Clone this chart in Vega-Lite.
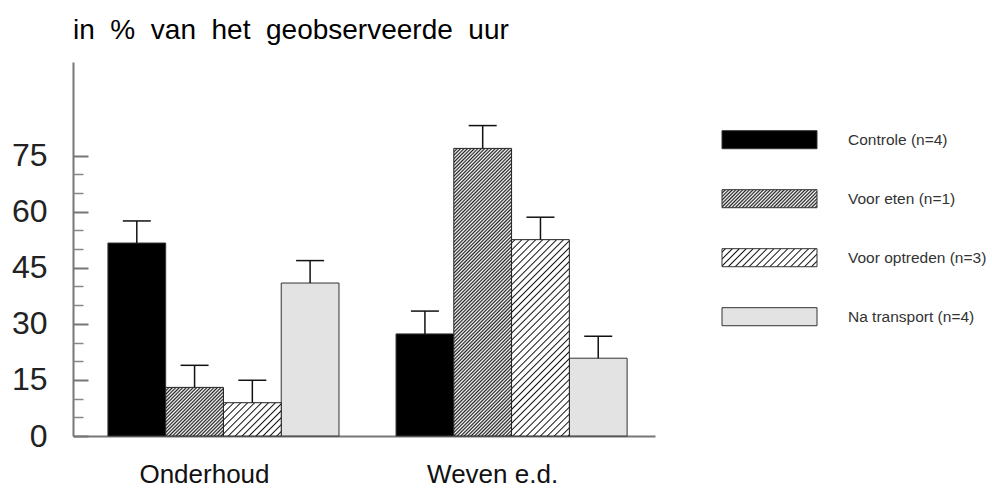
{
  "$schema": "https://vega.github.io/schema/vega-lite/v6.json",
  "width": 582,
  "height": 374,
  "autosize": {"type": "none"},
  "padding": {"left": 73, "top": 62, "right": 337, "bottom": 52},
  "background": "white",
  "config": {"view": {"stroke": null}, "font": "Liberation Sans"},
  "title": {
    "text": "in\u00a0 %\u00a0 van\u00a0 het\u00a0 geobserveerde\u00a0 uur",
    "anchor": "start",
    "frame": "group",
    "fontSize": 28,
    "fontWeight": "normal",
    "font": "Liberation Sans",
    "color": "#000",
    "baseline": "alphabetic",
    "offset": -5
  },
  "params": [
    {"name": "dense", "value": [
      {"offset":0,"color":"#222"},{"offset":0.005,"color":"#fff"},{"offset":0.01,"color":"#222"},{"offset":0.015,"color":"#fff"},{"offset":0.02,"color":"#222"},{"offset":0.025,"color":"#fff"},{"offset":0.03,"color":"#222"},{"offset":0.035,"color":"#fff"},{"offset":0.04,"color":"#222"},{"offset":0.045,"color":"#fff"},
      {"offset":0.05,"color":"#222"},{"offset":0.055,"color":"#fff"},{"offset":0.06,"color":"#222"},{"offset":0.065,"color":"#fff"},{"offset":0.07,"color":"#222"},{"offset":0.075,"color":"#fff"},{"offset":0.08,"color":"#222"},{"offset":0.085,"color":"#fff"},{"offset":0.09,"color":"#222"},{"offset":0.095,"color":"#fff"},
      {"offset":0.1,"color":"#222"},{"offset":0.105,"color":"#fff"},{"offset":0.11,"color":"#222"},{"offset":0.115,"color":"#fff"},{"offset":0.12,"color":"#222"},{"offset":0.125,"color":"#fff"},{"offset":0.13,"color":"#222"},{"offset":0.135,"color":"#fff"},{"offset":0.14,"color":"#222"},{"offset":0.145,"color":"#fff"},
      {"offset":0.15,"color":"#222"},{"offset":0.155,"color":"#fff"},{"offset":0.16,"color":"#222"},{"offset":0.165,"color":"#fff"},{"offset":0.17,"color":"#222"},{"offset":0.175,"color":"#fff"},{"offset":0.18,"color":"#222"},{"offset":0.185,"color":"#fff"},{"offset":0.19,"color":"#222"},{"offset":0.195,"color":"#fff"},
      {"offset":0.2,"color":"#222"},{"offset":0.205,"color":"#fff"},{"offset":0.21,"color":"#222"},{"offset":0.215,"color":"#fff"},{"offset":0.22,"color":"#222"},{"offset":0.225,"color":"#fff"},{"offset":0.23,"color":"#222"},{"offset":0.235,"color":"#fff"},{"offset":0.24,"color":"#222"},{"offset":0.245,"color":"#fff"},
      {"offset":0.25,"color":"#222"},{"offset":0.255,"color":"#fff"},{"offset":0.26,"color":"#222"},{"offset":0.265,"color":"#fff"},{"offset":0.27,"color":"#222"},{"offset":0.275,"color":"#fff"},{"offset":0.28,"color":"#222"},{"offset":0.285,"color":"#fff"},{"offset":0.29,"color":"#222"},{"offset":0.295,"color":"#fff"},
      {"offset":0.3,"color":"#222"},{"offset":0.305,"color":"#fff"},{"offset":0.31,"color":"#222"},{"offset":0.315,"color":"#fff"},{"offset":0.32,"color":"#222"},{"offset":0.325,"color":"#fff"},{"offset":0.33,"color":"#222"},{"offset":0.335,"color":"#fff"},{"offset":0.34,"color":"#222"},{"offset":0.345,"color":"#fff"},
      {"offset":0.35,"color":"#222"},{"offset":0.355,"color":"#fff"},{"offset":0.36,"color":"#222"},{"offset":0.365,"color":"#fff"},{"offset":0.37,"color":"#222"},{"offset":0.375,"color":"#fff"},{"offset":0.38,"color":"#222"},{"offset":0.385,"color":"#fff"},{"offset":0.39,"color":"#222"},{"offset":0.395,"color":"#fff"},
      {"offset":0.4,"color":"#222"},{"offset":0.405,"color":"#fff"},{"offset":0.41,"color":"#222"},{"offset":0.415,"color":"#fff"},{"offset":0.42,"color":"#222"},{"offset":0.425,"color":"#fff"},{"offset":0.43,"color":"#222"},{"offset":0.435,"color":"#fff"},{"offset":0.44,"color":"#222"},{"offset":0.445,"color":"#fff"},
      {"offset":0.45,"color":"#222"},{"offset":0.455,"color":"#fff"},{"offset":0.46,"color":"#222"},{"offset":0.465,"color":"#fff"},{"offset":0.47,"color":"#222"},{"offset":0.475,"color":"#fff"},{"offset":0.48,"color":"#222"},{"offset":0.485,"color":"#fff"},{"offset":0.49,"color":"#222"},{"offset":0.495,"color":"#fff"},
      {"offset":0.5,"color":"#222"},{"offset":0.505,"color":"#fff"},{"offset":0.51,"color":"#222"},{"offset":0.515,"color":"#fff"},{"offset":0.52,"color":"#222"},{"offset":0.525,"color":"#fff"},{"offset":0.53,"color":"#222"},{"offset":0.535,"color":"#fff"},{"offset":0.54,"color":"#222"},{"offset":0.545,"color":"#fff"},
      {"offset":0.55,"color":"#222"},{"offset":0.555,"color":"#fff"},{"offset":0.56,"color":"#222"},{"offset":0.565,"color":"#fff"},{"offset":0.57,"color":"#222"},{"offset":0.575,"color":"#fff"},{"offset":0.58,"color":"#222"},{"offset":0.585,"color":"#fff"},{"offset":0.59,"color":"#222"},{"offset":0.595,"color":"#fff"},
      {"offset":0.6,"color":"#222"},{"offset":0.605,"color":"#fff"},{"offset":0.61,"color":"#222"},{"offset":0.615,"color":"#fff"},{"offset":0.62,"color":"#222"},{"offset":0.625,"color":"#fff"},{"offset":0.63,"color":"#222"},{"offset":0.635,"color":"#fff"},{"offset":0.64,"color":"#222"},{"offset":0.645,"color":"#fff"},
      {"offset":0.65,"color":"#222"},{"offset":0.655,"color":"#fff"},{"offset":0.66,"color":"#222"},{"offset":0.665,"color":"#fff"},{"offset":0.67,"color":"#222"},{"offset":0.675,"color":"#fff"},{"offset":0.68,"color":"#222"},{"offset":0.685,"color":"#fff"},{"offset":0.69,"color":"#222"},{"offset":0.695,"color":"#fff"},
      {"offset":0.7,"color":"#222"},{"offset":0.705,"color":"#fff"},{"offset":0.71,"color":"#222"},{"offset":0.715,"color":"#fff"},{"offset":0.72,"color":"#222"},{"offset":0.725,"color":"#fff"},{"offset":0.73,"color":"#222"},{"offset":0.735,"color":"#fff"},{"offset":0.74,"color":"#222"},{"offset":0.745,"color":"#fff"},
      {"offset":0.75,"color":"#222"},{"offset":0.755,"color":"#fff"},{"offset":0.76,"color":"#222"},{"offset":0.765,"color":"#fff"},{"offset":0.77,"color":"#222"},{"offset":0.775,"color":"#fff"},{"offset":0.78,"color":"#222"},{"offset":0.785,"color":"#fff"},{"offset":0.79,"color":"#222"},{"offset":0.795,"color":"#fff"},
      {"offset":0.8,"color":"#222"},{"offset":0.805,"color":"#fff"},{"offset":0.81,"color":"#222"},{"offset":0.815,"color":"#fff"},{"offset":0.82,"color":"#222"},{"offset":0.825,"color":"#fff"},{"offset":0.83,"color":"#222"},{"offset":0.835,"color":"#fff"},{"offset":0.84,"color":"#222"},{"offset":0.845,"color":"#fff"},
      {"offset":0.85,"color":"#222"},{"offset":0.855,"color":"#fff"},{"offset":0.86,"color":"#222"},{"offset":0.865,"color":"#fff"},{"offset":0.87,"color":"#222"},{"offset":0.875,"color":"#fff"},{"offset":0.88,"color":"#222"},{"offset":0.885,"color":"#fff"},{"offset":0.89,"color":"#222"},{"offset":0.895,"color":"#fff"},
      {"offset":0.9,"color":"#222"},{"offset":0.905,"color":"#fff"},{"offset":0.91,"color":"#222"},{"offset":0.915,"color":"#fff"},{"offset":0.92,"color":"#222"},{"offset":0.925,"color":"#fff"},{"offset":0.93,"color":"#222"},{"offset":0.935,"color":"#fff"},{"offset":0.94,"color":"#222"},{"offset":0.945,"color":"#fff"},
      {"offset":0.95,"color":"#222"},{"offset":0.955,"color":"#fff"},{"offset":0.96,"color":"#222"},{"offset":0.965,"color":"#fff"},{"offset":0.97,"color":"#222"},{"offset":0.975,"color":"#fff"},{"offset":0.98,"color":"#222"},{"offset":0.985,"color":"#fff"},{"offset":0.99,"color":"#222"},{"offset":0.995,"color":"#fff"},
      {"offset":1,"color":"#222"}
    ]},
    {"name": "sparse", "value": [
      {"offset":0.0075,"color":"#fff"},{"offset":0.0125,"color":"#111"},{"offset":0.0175,"color":"#fff"},
      {"offset":0.0325,"color":"#fff"},{"offset":0.0375,"color":"#111"},{"offset":0.0425,"color":"#fff"},
      {"offset":0.0575,"color":"#fff"},{"offset":0.0625,"color":"#111"},{"offset":0.0675,"color":"#fff"},
      {"offset":0.0825,"color":"#fff"},{"offset":0.0875,"color":"#111"},{"offset":0.0925,"color":"#fff"},
      {"offset":0.1075,"color":"#fff"},{"offset":0.1125,"color":"#111"},{"offset":0.1175,"color":"#fff"},
      {"offset":0.1325,"color":"#fff"},{"offset":0.1375,"color":"#111"},{"offset":0.1425,"color":"#fff"},
      {"offset":0.1575,"color":"#fff"},{"offset":0.1625,"color":"#111"},{"offset":0.1675,"color":"#fff"},
      {"offset":0.1825,"color":"#fff"},{"offset":0.1875,"color":"#111"},{"offset":0.1925,"color":"#fff"},
      {"offset":0.2075,"color":"#fff"},{"offset":0.2125,"color":"#111"},{"offset":0.2175,"color":"#fff"},
      {"offset":0.2325,"color":"#fff"},{"offset":0.2375,"color":"#111"},{"offset":0.2425,"color":"#fff"},
      {"offset":0.2575,"color":"#fff"},{"offset":0.2625,"color":"#111"},{"offset":0.2675,"color":"#fff"},
      {"offset":0.2825,"color":"#fff"},{"offset":0.2875,"color":"#111"},{"offset":0.2925,"color":"#fff"},
      {"offset":0.3075,"color":"#fff"},{"offset":0.3125,"color":"#111"},{"offset":0.3175,"color":"#fff"},
      {"offset":0.3325,"color":"#fff"},{"offset":0.3375,"color":"#111"},{"offset":0.3425,"color":"#fff"},
      {"offset":0.3575,"color":"#fff"},{"offset":0.3625,"color":"#111"},{"offset":0.3675,"color":"#fff"},
      {"offset":0.3825,"color":"#fff"},{"offset":0.3875,"color":"#111"},{"offset":0.3925,"color":"#fff"},
      {"offset":0.4075,"color":"#fff"},{"offset":0.4125,"color":"#111"},{"offset":0.4175,"color":"#fff"},
      {"offset":0.4325,"color":"#fff"},{"offset":0.4375,"color":"#111"},{"offset":0.4425,"color":"#fff"},
      {"offset":0.4575,"color":"#fff"},{"offset":0.4625,"color":"#111"},{"offset":0.4675,"color":"#fff"},
      {"offset":0.4825,"color":"#fff"},{"offset":0.4875,"color":"#111"},{"offset":0.4925,"color":"#fff"},
      {"offset":0.5075,"color":"#fff"},{"offset":0.5125,"color":"#111"},{"offset":0.5175,"color":"#fff"},
      {"offset":0.5325,"color":"#fff"},{"offset":0.5375,"color":"#111"},{"offset":0.5425,"color":"#fff"},
      {"offset":0.5575,"color":"#fff"},{"offset":0.5625,"color":"#111"},{"offset":0.5675,"color":"#fff"},
      {"offset":0.5825,"color":"#fff"},{"offset":0.5875,"color":"#111"},{"offset":0.5925,"color":"#fff"},
      {"offset":0.6075,"color":"#fff"},{"offset":0.6125,"color":"#111"},{"offset":0.6175,"color":"#fff"},
      {"offset":0.6325,"color":"#fff"},{"offset":0.6375,"color":"#111"},{"offset":0.6425,"color":"#fff"},
      {"offset":0.6575,"color":"#fff"},{"offset":0.6625,"color":"#111"},{"offset":0.6675,"color":"#fff"},
      {"offset":0.6825,"color":"#fff"},{"offset":0.6875,"color":"#111"},{"offset":0.6925,"color":"#fff"},
      {"offset":0.7075,"color":"#fff"},{"offset":0.7125,"color":"#111"},{"offset":0.7175,"color":"#fff"},
      {"offset":0.7325,"color":"#fff"},{"offset":0.7375,"color":"#111"},{"offset":0.7425,"color":"#fff"},
      {"offset":0.7575,"color":"#fff"},{"offset":0.7625,"color":"#111"},{"offset":0.7675,"color":"#fff"},
      {"offset":0.7825,"color":"#fff"},{"offset":0.7875,"color":"#111"},{"offset":0.7925,"color":"#fff"},
      {"offset":0.8075,"color":"#fff"},{"offset":0.8125,"color":"#111"},{"offset":0.8175,"color":"#fff"},
      {"offset":0.8325,"color":"#fff"},{"offset":0.8375,"color":"#111"},{"offset":0.8425,"color":"#fff"},
      {"offset":0.8575,"color":"#fff"},{"offset":0.8625,"color":"#111"},{"offset":0.8675,"color":"#fff"},
      {"offset":0.8825,"color":"#fff"},{"offset":0.8875,"color":"#111"},{"offset":0.8925,"color":"#fff"},
      {"offset":0.9075,"color":"#fff"},{"offset":0.9125,"color":"#111"},{"offset":0.9175,"color":"#fff"},
      {"offset":0.9325,"color":"#fff"},{"offset":0.9375,"color":"#111"},{"offset":0.9425,"color":"#fff"},
      {"offset":0.9575,"color":"#fff"},{"offset":0.9625,"color":"#111"},{"offset":0.9675,"color":"#fff"},
      {"offset":0.9825,"color":"#fff"},{"offset":0.9875,"color":"#111"},{"offset":0.9925,"color":"#fff"}
    ]}
  ],
  "data": {"values": [
    {"group": "Onderhoud", "series": "Controle (n=4)", "value": 51.6, "upper": 57.5},
    {"group": "Onderhoud", "series": "Voor eten (n=1)", "value": 13.0, "upper": 18.9},
    {"group": "Onderhoud", "series": "Voor optreden (n=3)", "value": 8.9, "upper": 14.9},
    {"group": "Onderhoud", "series": "Na transport (n=4)", "value": 40.9, "upper": 46.9},
    {"group": "Weven e.d.", "series": "Controle (n=4)", "value": 27.3, "upper": 33.4},
    {"group": "Weven e.d.", "series": "Voor eten (n=1)", "value": 76.9, "upper": 83.0},
    {"group": "Weven e.d.", "series": "Voor optreden (n=3)", "value": 52.5, "upper": 58.5},
    {"group": "Weven e.d.", "series": "Na transport (n=4)", "value": 20.8, "upper": 26.7}
  ]},
  "resolve": {"axis": {"y": "independent"}},
  "encoding": {
    "x": {
      "field": "group", "type": "nominal", "sort": null,
      "scale": {"domain": ["Onderhoud", "Weven e.d."], "paddingInner": 0.198, "paddingOuter": 0.109, "align": 0.556},
      "axis": {"title": null, "ticks": false, "domainColor": "#777", "domainWidth": 2, "labelFontSize": 26, "labelFont": "Liberation Sans", "labelColor": "#111", "labelPadding": 25, "labelAngle": 0, "labelOffset": -19}
    },
    "xOffset": {
      "field": "series", "type": "nominal", "sort": null,
      "scale": {"domain": ["Controle (n=4)", "Voor eten (n=1)", "Voor optreden (n=3)", "Na transport (n=4)"], "paddingInner": 0, "paddingOuter": 0}
    }
  },
  "layer": [
    {
      "transform": [{"filter": {"field": "series", "oneOf": ["Controle (n=4)", "Na transport (n=4)"]}}],
      "mark": {"type": "bar", "stroke": "#333", "strokeWidth": 1},
      "encoding": {
        "y": {"field": "value", "type": "quantitative", "stack": null, "scale": {"domain": [0, 100], "nice": false},
          "axis": {"title": null, "grid": false, "values": [0, 15, 30, 45, 60, 75], "tickSize": -15, "tickWidth": 2, "tickColor": "#777", "domainColor": "#777", "domainWidth": 2, "labelFontSize": 32, "labelFont": "Liberation Sans", "labelColor": "#222", "labelPadding": 41}},
        "fill": {
          "field": "series", "type": "nominal",
          "scale": {
            "domain": ["Controle (n=4)", "Voor eten (n=1)", "Voor optreden (n=3)", "Na transport (n=4)"],
            "range": ["#000000",
              {"expr": "{gradient:'linear',x1:0,y1:0,x2:3.5207,y2:0.6671,stops:dense}"},
              {"expr": "{gradient:'linear',x1:0,y1:0,x2:2.8166,y2:0.5337,stops:sparse}"},
              "#e3e3e3"]
          },
          "legend": {
            "orient": "none", "legendX": 686.5, "legendY": 67.7, "title": null, "padding": 0,
            "symbolType": "M-5,-0.95H5V0.95H-5Z", "symbolSize": 361,
            "symbolStrokeColor": "#333", "symbolStrokeWidth": 1, "symbolOpacity": 1,
            "labelFontSize": 15.5, "labelFont": "Liberation Sans", "labelColor": "#333",
            "labelOffset": 68.5, "rowPadding": 35
          }
        }
      }
    },
    {
      "transform": [{"filter": {"field": "series", "equal": "Voor eten (n=1)"}}],
      "mark": {"type": "bar", "stroke": "#222", "strokeWidth": 1,
        "fill": {"expr": "{gradient:'linear',x1:0,y1:0,x2:346.5*bandwidth('xOffset')/(pow(bandwidth('xOffset'),2)+pow(scale('y',0)-scale('y',datum.value),2)),y2:346.5*(scale('y',0)-scale('y',datum.value))/(pow(bandwidth('xOffset'),2)+pow(scale('y',0)-scale('y',datum.value),2)),stops:dense}"}},
      "encoding": {
        "y": {"field": "value", "type": "quantitative", "stack": null, "scale": {"domain": [0, 100], "nice": false},
          "axis": {"orient": "left", "title": null, "grid": false, "values": [5, 10, 20, 25, 35, 40, 50, 55, 65, 70], "tickSize": -10, "tickWidth": 1.5, "tickColor": "#888", "domain": false, "labels": false}}
      }
    },
    {
      "transform": [{"filter": {"field": "series", "equal": "Voor optreden (n=3)"}}],
      "mark": {"type": "bar", "stroke": "#222", "strokeWidth": 1,
        "fill": {"expr": "{gradient:'linear',x1:0,y1:0,x2:277.2*bandwidth('xOffset')/(pow(bandwidth('xOffset'),2)+pow(scale('y',0)-scale('y',datum.value),2)),y2:277.2*(scale('y',0)-scale('y',datum.value))/(pow(bandwidth('xOffset'),2)+pow(scale('y',0)-scale('y',datum.value),2)),stops:sparse}"}},
      "encoding": {
        "y": {"field": "value", "type": "quantitative", "stack": null, "scale": {"domain": [0, 100], "nice": false}, "axis": null}
      }
    },
    {
      "mark": {"type": "rule", "color": "#111", "strokeWidth": 1.5},
      "encoding": {
        "y": {"field": "value", "type": "quantitative", "scale": {"domain": [0, 100], "nice": false}, "axis": null},
        "y2": {"field": "upper"}
      }
    },
    {
      "mark": {"type": "tick", "orient": "horizontal", "color": "#111", "size": 28, "thickness": 1.5, "opacity": 1},
      "encoding": {
        "y": {"field": "upper", "type": "quantitative", "scale": {"domain": [0, 100], "nice": false}, "axis": null}
      }
    }
  ]
}
